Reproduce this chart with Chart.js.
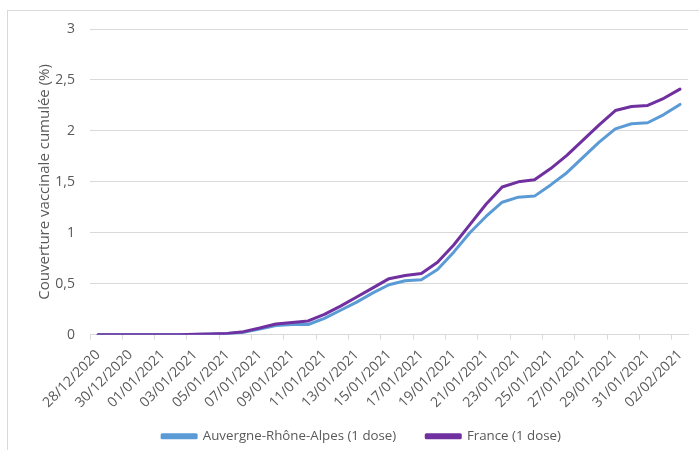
<!DOCTYPE html>
<html>
<head>
<meta charset="utf-8">
<script src="https://cdn.jsdelivr.net/npm/chart.js@4"></script>
<style>
  html, body { margin: 0; padding: 0; background: #ffffff; }
  body { width: 699px; height: 450px; position: relative; overflow: hidden; }
  #frame { position: absolute; left: 7px; top: 10px; width: 700px; height: 450px; border: 1px solid #d9d9d9; box-sizing: border-box; }
  #wrap { position: absolute; left: 0; top: 0; width: 699px; height: 450px; }
</style>
</head>
<body>
<div id="frame"></div>
<div id="wrap"><canvas id="chart" width="699" height="450"></canvas></div>
<script>
// Daily dates, 28/12/2020 to 02/02/2021
const dates = [
  '28/12/2020', '29/12/2020', '30/12/2020', '31/12/2020',
  '01/01/2021', '02/01/2021', '03/01/2021', '04/01/2021', '05/01/2021',
  '06/01/2021', '07/01/2021', '08/01/2021', '09/01/2021', '10/01/2021',
  '11/01/2021', '12/01/2021', '13/01/2021', '14/01/2021', '15/01/2021',
  '16/01/2021', '17/01/2021', '18/01/2021', '19/01/2021', '20/01/2021',
  '21/01/2021', '22/01/2021', '23/01/2021', '24/01/2021', '25/01/2021',
  '26/01/2021', '27/01/2021', '28/01/2021', '29/01/2021', '30/01/2021',
  '31/01/2021', '01/02/2021', '02/02/2021'
];

// Cumulative first-dose coverage (%)
const auvergneRhoneAlpes = [
  0, 0, 0, 0, 0, 0, 0.003, 0.006, 0.012, 0.025,
  0.055, 0.09, 0.10, 0.10, 0.16, 0.24, 0.32, 0.41, 0.49, 0.53,
  0.54, 0.64, 0.81, 1.00, 1.16, 1.30, 1.35, 1.36, 1.47, 1.59,
  1.74, 1.89, 2.02, 2.07, 2.08, 2.16, 2.26
];
const france = [
  0, 0, 0, 0, 0, 0, 0.004, 0.008, 0.013, 0.03,
  0.065, 0.105, 0.12, 0.135, 0.20, 0.28, 0.37, 0.46, 0.55, 0.58,
  0.60, 0.71, 0.88, 1.08, 1.28, 1.45, 1.50, 1.52, 1.63, 1.76,
  1.91, 2.06, 2.20, 2.24, 2.25, 2.32, 2.41
];

const seriesNames = ['Auvergne-Rhône-Alpes (1 dose)', 'France (1 dose)'];
const yTicks = [0, 0.5, 1, 1.5, 2, 2.5, 3];
const yTitle = 'Couverture vaccinale cumulée (%)';

const textColor = '#595959';
const gridColor = '#d9d9d9';
const fontFamily = "'Open Sans', 'Liberation Sans', sans-serif";

new Chart(document.getElementById('chart'), {
  type: 'line',
  data: {
    labels: dates,
    datasets: [
      {
        label: seriesNames[0],
        data: auvergneRhoneAlpes,
        borderColor: '#5b9bd5',
        backgroundColor: '#5b9bd5',
        borderWidth: 3,
        pointRadius: 0,
        tension: 0,
        borderJoinStyle: 'round',
        borderCapStyle: 'round',
        order: 2
      },
      {
        label: seriesNames[1],
        data: france,
        borderColor: '#7030a0',
        backgroundColor: '#7030a0',
        borderWidth: 3,
        pointRadius: 0,
        tension: 0,
        borderJoinStyle: 'round',
        borderCapStyle: 'round',
        order: 1
      }
    ]
  },
  options: {
    responsive: false,
    animation: false,
    devicePixelRatio: 1,
    layout: { padding: { left: 34, right: 10, top: 29, bottom: -3 } },
    plugins: {
      tooltip: { enabled: false },
      legend: {
        position: 'bottom',
        labels: {
          color: textColor,
          font: { family: fontFamily, size: 13.3 },
          boxWidth: 34,
          boxHeight: 3,
          padding: 30,
          sort: (a, b) => a.datasetIndex - b.datasetIndex
        }
      }
    },
    scales: {
      x: {
        type: 'category',
        offset: true,
        border: { display: true, color: gridColor, width: 1 },
        grid: {
          offset: true,
          drawOnChartArea: false,
          drawTicks: true,
          tickLength: 5,
          color: (ctx) => (ctx.index !== undefined && ctx.index % 2 === 0) ? gridColor : 'rgba(0,0,0,0)'
        },
        ticks: {
          autoSkip: false,
          maxRotation: 45,
          minRotation: 45,
          padding: 7,
          color: textColor,
          font: { family: fontFamily, size: 14 },
          callback: function (value, index) {
            return index % 2 === 0 ? this.getLabelForValue(value) : '';
          }
        },
        afterFit: (scale) => {
          scale.height = 65;
          // let the rotated date labels extend past the axis box
          scale._computeLabelArea = () => undefined;
        }
      },
      y: {
        min: 0,
        max: 3,
        border: { display: false },
        grid: { color: gridColor, drawTicks: false, lineWidth: 1 },
        afterBuildTicks: (scale) => { scale.ticks = yTicks.map(v => ({ value: v })); },
        ticks: {
          padding: 15,
          color: textColor,
          font: { family: fontFamily, size: 14 },
          callback: (v) => String(v).replace('.', ',')
        },
        title: {
          display: true,
          text: yTitle,
          color: textColor,
          font: { family: fontFamily, size: 15 },
          padding: { top: 2, bottom: 0 }
        },
        afterFit: (scale) => { scale.width = 56; }
      }
    }
  }
});
</script>
</body>
</html>
